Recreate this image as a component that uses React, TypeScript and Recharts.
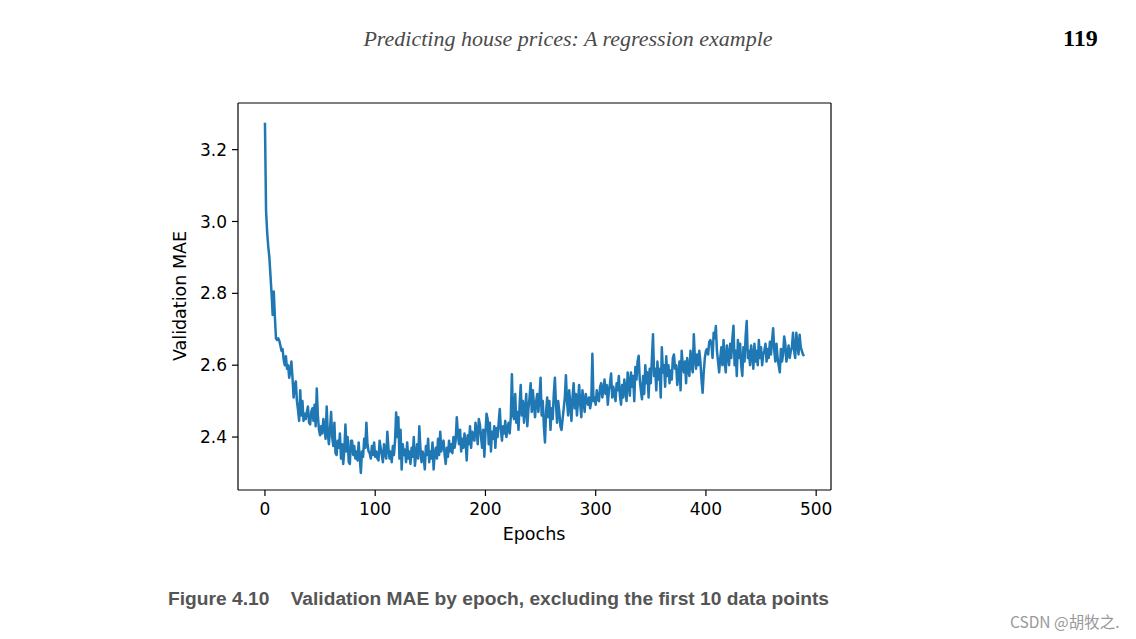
import React from "react";
import { LineChart, Line, XAxis, YAxis } from "recharts";

// validation MAE per epoch (first 10 data points already dropped)
const maeValues: number[] = [
  3.275, 3.03, 2.97, 2.93, 2.9, 2.85, 2.8, 2.74, 2.805, 2.735,
  2.675, 2.67, 2.675, 2.668, 2.655, 2.64, 2.645, 2.615, 2.6, 2.625,
  2.59, 2.6, 2.565, 2.585, 2.61, 2.565, 2.51, 2.545, 2.555, 2.5,
  2.475, 2.445, 2.53, 2.46, 2.5, 2.445, 2.465, 2.45, 2.47, 2.485,
  2.44, 2.435, 2.47, 2.48, 2.445, 2.49, 2.43, 2.535, 2.46, 2.42,
  2.405, 2.43, 2.41, 2.45, 2.425, 2.395, 2.485, 2.41, 2.38, 2.42,
  2.47, 2.4, 2.375, 2.44, 2.355, 2.35, 2.39, 2.37, 2.41, 2.34,
  2.38, 2.325, 2.365, 2.435, 2.36, 2.4, 2.33, 2.325, 2.39, 2.39,
  2.35, 2.375, 2.34, 2.36, 2.335, 2.385, 2.34, 2.3, 2.36, 2.345,
  2.395, 2.37, 2.44, 2.38, 2.36, 2.355, 2.34, 2.375, 2.35, 2.385,
  2.345, 2.36, 2.34, 2.335, 2.39, 2.37, 2.35, 2.33, 2.38, 2.355,
  2.34, 2.415, 2.37, 2.34, 2.36, 2.33, 2.375, 2.35, 2.39, 2.468,
  2.4, 2.455, 2.34, 2.42, 2.31, 2.38, 2.35, 2.365, 2.33, 2.385,
  2.34, 2.36, 2.325, 2.37, 2.345, 2.4, 2.32, 2.35, 2.38, 2.34,
  2.43, 2.37, 2.33, 2.36, 2.345, 2.31, 2.375, 2.35, 2.395, 2.33,
  2.36, 2.34, 2.385, 2.31, 2.355, 2.37, 2.34, 2.395, 2.35, 2.415,
  2.36, 2.38, 2.39, 2.35, 2.325, 2.37, 2.345, 2.39, 2.36, 2.38,
  2.355, 2.4, 2.37, 2.39, 2.455, 2.41, 2.38, 2.42, 2.36, 2.395,
  2.37, 2.41, 2.39, 2.335, 2.405, 2.38, 2.43, 2.37, 2.415, 2.4,
  2.39, 2.44, 2.42, 2.38, 2.45, 2.435, 2.4, 2.37, 2.42, 2.345,
  2.41, 2.465, 2.45, 2.38, 2.44, 2.36, 2.415, 2.395, 2.43, 2.37,
  2.425, 2.4, 2.44, 2.478, 2.42, 2.39, 2.43, 2.41, 2.445, 2.4,
  2.425, 2.44, 2.41, 2.455, 2.575, 2.46, 2.45, 2.52, 2.44, 2.47,
  2.42, 2.49, 2.545, 2.46, 2.5, 2.44, 2.475, 2.52, 2.43, 2.48,
  2.51, 2.55, 2.47, 2.53, 2.49, 2.455, 2.5, 2.52, 2.47, 2.51,
  2.565, 2.46, 2.5, 2.43, 2.385, 2.47, 2.51, 2.455, 2.5, 2.42,
  2.48, 2.45, 2.52, 2.565, 2.49, 2.44, 2.5, 2.47, 2.43, 2.42,
  2.45, 2.48, 2.51, 2.572, 2.5, 2.46, 2.53, 2.49, 2.445, 2.51,
  2.55, 2.48, 2.52, 2.46, 2.5, 2.545, 2.49, 2.455, 2.53, 2.5,
  2.47, 2.52, 2.5, 2.49, 2.51, 2.48, 2.5, 2.632, 2.5, 2.51,
  2.49, 2.53, 2.505, 2.5, 2.54, 2.55, 2.51, 2.53, 2.56, 2.52,
  2.545, 2.49, 2.53, 2.55, 2.577, 2.51, 2.54, 2.52, 2.5, 2.55,
  2.53, 2.57, 2.515, 2.49, 2.545, 2.51, 2.56, 2.53, 2.5, 2.58,
  2.55, 2.515, 2.58, 2.54, 2.57, 2.5, 2.595, 2.56, 2.61, 2.626,
  2.56, 2.53, 2.505, 2.57, 2.52, 2.6, 2.55, 2.58, 2.51, 2.59,
  2.55, 2.62, 2.686, 2.57, 2.59, 2.53, 2.61, 2.56, 2.59, 2.51,
  2.65, 2.58, 2.6, 2.54, 2.625, 2.57, 2.6, 2.55, 2.585, 2.56,
  2.62, 2.63, 2.59, 2.6, 2.545, 2.575, 2.61, 2.53, 2.64, 2.6,
  2.58, 2.61, 2.55, 2.62, 2.59, 2.57, 2.64, 2.6, 2.58, 2.686,
  2.62, 2.59, 2.63, 2.6, 2.64, 2.61, 2.56, 2.523, 2.58, 2.62,
  2.64, 2.645, 2.63, 2.665, 2.67, 2.66, 2.62, 2.69, 2.675, 2.709,
  2.64, 2.61, 2.58, 2.62, 2.65, 2.6, 2.67, 2.61, 2.58, 2.655,
  2.63, 2.6, 2.66, 2.62, 2.675, 2.71, 2.6, 2.64, 2.57, 2.67,
  2.62, 2.66, 2.6, 2.57, 2.65, 2.61, 2.68, 2.723, 2.62, 2.64,
  2.6, 2.655, 2.63, 2.59, 2.66, 2.61, 2.64, 2.6, 2.67, 2.62,
  2.65, 2.6, 2.63, 2.64, 2.66, 2.61, 2.645, 2.62, 2.665, 2.63,
  2.67, 2.703, 2.64, 2.61, 2.66, 2.62, 2.6, 2.58, 2.645, 2.61,
  2.63, 2.68, 2.66, 2.61, 2.63, 2.655, 2.62, 2.64, 2.65, 2.69,
  2.64, 2.62, 2.69, 2.66, 2.63, 2.685, 2.65, 2.64, 2.63, 2.625,
];

const xTicks = [0, 100, 200, 300, 400, 500];
const yTicks = [2.4, 2.6, 2.8, 3.0, 3.2];

const data = maeValues.map((mae, epoch) => ({ epoch, mae }));

const tickStyle = { fontSize: 17, fill: "#000", fontFamily: "DejaVu Sans" };
const spine = { stroke: "#000", strokeWidth: 1.2 };

const App: React.FC = () => {
  return (
    <div style={{ position: "absolute", left: 0, top: 0, width: 1136, height: 639, background: "#fff", overflow: "hidden" }}>
      <div style={{ position: "absolute", left: 0, width: 1136, top: 26, textAlign: "center", fontFamily: "Liberation Serif", fontStyle: "italic", fontSize: 22, color: "#4a4a4a" }}>
        Predicting house prices: A regression example
      </div>
      <div style={{ position: "absolute", left: 1063, top: 25, fontFamily: "Liberation Serif", fontWeight: "bold", fontSize: 24, color: "#000" }}>
        119
      </div>

      <LineChart
        width={1136}
        height={639}
        data={data}
        margin={{ top: 93, left: 178, right: 295, bottom: 109 }}
        style={{ position: "absolute", left: 0, top: 0 }}
      >
        <XAxis
          dataKey="epoch"
          type="number"
          domain={[-24.45, 513.45]}
          ticks={xTicks}
          allowDataOverflow
          height={40}
          tickSize={6}
          tickMargin={7}
          tick={tickStyle}
          axisLine={spine}
          tickLine={spine}
        />
        <XAxis xAxisId="top" orientation="top" dataKey="epoch" type="number" domain={[-24.45, 513.45]} height={10} tick={false} tickLine={false} axisLine={spine} />
        <YAxis
          type="number"
          domain={[2.2526, 3.3298]}
          ticks={yTicks}
          allowDataOverflow
          width={60}
          tickSize={6}
          tickMargin={5}
          tick={tickStyle}
          tickFormatter={(v: number) => v.toFixed(1)}
          axisLine={spine}
          tickLine={spine}
        />
        <YAxis yAxisId="right" orientation="right" type="number" domain={[2.2526, 3.3298]} width={10} tick={false} tickLine={false} axisLine={spine} />
        <Line
          type="linear"
          dataKey="mae"
          stroke="#1f77b4"
          strokeWidth={2.5}
          dot={false}
          isAnimationActive={false}
          strokeLinejoin="round"
        />
      </LineChart>

      <div style={{ position: "absolute", left: 434, width: 200, top: 524, textAlign: "center", fontFamily: "DejaVu Sans", fontSize: 17.5, color: "#000" }}>
        Epochs
      </div>
      <div style={{ position: "absolute", left: 180, top: 297, width: 0, height: 0 }}>
        <div style={{ position: "absolute", left: -100, top: -11, width: 200, textAlign: "center", transform: "rotate(-90deg)", fontFamily: "DejaVu Sans", fontSize: 17.5, color: "#000", whiteSpace: "nowrap" }}>
          Validation MAE
        </div>
      </div>

      <div style={{ position: "absolute", left: 168, top: 588, fontFamily: "Liberation Sans", fontWeight: "bold", fontSize: 19.2, color: "#555", whiteSpace: "pre" }}>
        {"Figure 4.10    Validation MAE by epoch, excluding the first 10 data points"}
      </div>
      <div style={{ position: "absolute", left: 1010, top: 610, fontFamily: "Noto Sans CJK SC", fontSize: 15.5, color: "#999", whiteSpace: "nowrap" }}>
        CSDN @胡牧之.
      </div>
    </div>
  );
};

export default App;
